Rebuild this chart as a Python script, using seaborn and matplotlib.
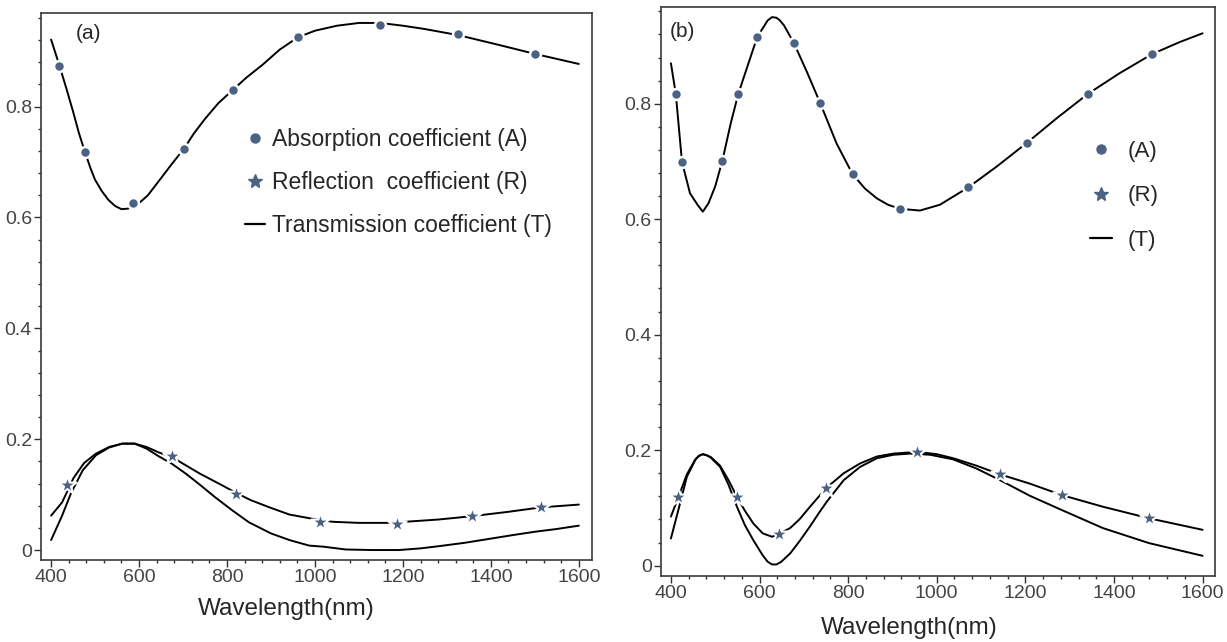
import numpy as np
import matplotlib
matplotlib.use("Agg")
import matplotlib.pyplot as plt
import seaborn as sns
from matplotlib.lines import Line2D
from matplotlib.ticker import MultipleLocator

sns.set_style("ticks")
plt.rcParams['font.family'] = ['Liberation Sans', 'DejaVu Sans']

# ---- panel (a) data ----
a_A_wl = [400, 419, 435, 450, 463, 477, 490, 500, 515, 530, 545, 560, 575, 587, 603,
          620, 650, 675, 702, 725, 750, 780, 813, 845, 880, 920, 961, 1000, 1050,
          1100, 1148, 1200, 1250, 1326, 1420, 1501, 1600]
a_A = [0.921, 0.874, 0.832, 0.791, 0.753, 0.718, 0.688, 0.668, 0.648, 0.632, 0.621,
       0.615, 0.616, 0.620, 0.628, 0.640, 0.671, 0.697, 0.724, 0.752, 0.778, 0.806,
       0.830, 0.853, 0.875, 0.903, 0.925, 0.937, 0.946, 0.951, 0.951, 0.946, 0.940,
       0.929, 0.911, 0.895, 0.877]
a_A_mk_wl = [419, 477, 587, 702, 813, 961, 1148, 1326, 1501]
a_A_mk = [0.874, 0.718, 0.626, 0.724, 0.830, 0.925, 0.948, 0.931, 0.895]

a_R_wl = [400, 425, 451, 475, 502, 532, 562, 590, 617, 645, 674, 706, 738, 786, 821,
          854, 900, 942, 997, 1040, 1100, 1161, 1205, 1280, 1356, 1440, 1514, 1600]
a_R = [0.062, 0.086, 0.130, 0.157, 0.174, 0.186, 0.192, 0.192, 0.186, 0.176, 0.168,
       0.153, 0.138, 0.118, 0.103, 0.090, 0.076, 0.064, 0.056, 0.051, 0.049, 0.049,
       0.051, 0.055, 0.061, 0.069, 0.077, 0.082]
a_R_mk_wl = [436, 674, 821, 1011, 1186, 1356, 1514]
a_R_mk = [0.117, 0.170, 0.102, 0.050, 0.047, 0.061, 0.078]

a_T_wl = [400, 425, 445, 472, 502, 532, 562, 590, 617, 645, 674, 706, 738, 775, 813,
          850, 900, 942, 987, 1020, 1070, 1130, 1191, 1240, 1282, 1340, 1395, 1450,
          1500, 1550, 1600]
a_T = [0.018, 0.062, 0.102, 0.144, 0.171, 0.185, 0.192, 0.192, 0.183, 0.169, 0.156,
       0.138, 0.118, 0.094, 0.071, 0.050, 0.030, 0.018, 0.008, 0.006, 0.001, 0.000,
       0.000, 0.003, 0.007, 0.013, 0.020, 0.027, 0.033, 0.038, 0.044]

# ---- panel (b) data ----
b_A_wl = [400, 411, 425, 443, 460, 472, 485, 500, 516, 535, 552, 575, 595, 610, 618,
          628, 638, 645, 655, 677, 707, 737, 774, 810, 838, 865, 890, 917, 962, 1007,
          1071, 1135, 1203, 1271, 1341, 1413, 1486, 1549, 1600]
b_A = [0.870, 0.817, 0.699, 0.645, 0.625, 0.613, 0.628, 0.657, 0.701, 0.766, 0.817,
       0.870, 0.916, 0.934, 0.944, 0.950, 0.949, 0.945, 0.936, 0.906, 0.855, 0.801,
       0.731, 0.678, 0.653, 0.636, 0.625, 0.618, 0.615, 0.625, 0.655, 0.691, 0.732,
       0.775, 0.817, 0.853, 0.886, 0.907, 0.922]
b_A_mk_wl = [411, 425, 516, 552, 595, 677, 737, 810, 917, 1071, 1203, 1341, 1486]
b_A_mk = [0.817, 0.699, 0.701, 0.817, 0.916, 0.906, 0.801, 0.678, 0.618, 0.655,
          0.732, 0.817, 0.886]

b_R_wl = [400, 417, 436, 455, 463, 472, 481, 490, 511, 530, 549, 567, 586, 607, 628,
          644, 669, 690, 714, 750, 790, 827, 865, 902, 956, 1000, 1037, 1090, 1143,
          1210, 1283, 1375, 1479, 1600]
b_R = [0.085, 0.119, 0.158, 0.184, 0.190, 0.193, 0.191, 0.188, 0.173, 0.148, 0.119,
       0.095, 0.073, 0.056, 0.050, 0.055, 0.065, 0.080, 0.102, 0.134, 0.160, 0.177,
       0.189, 0.194, 0.197, 0.193, 0.186, 0.173, 0.158, 0.142, 0.122, 0.102, 0.082,
       0.062]
b_R_mk_wl = [417, 549, 644, 750, 956, 1143, 1283, 1479]
b_R_mk = [0.119, 0.119, 0.055, 0.134, 0.197, 0.158, 0.122, 0.082]

b_T_wl = [400, 418, 436, 455, 463, 472, 481, 490, 511, 530, 549, 567, 586, 607, 618,
          628, 638, 648, 669, 690, 714, 733, 752, 790, 827, 865, 902, 940, 985, 1037,
          1090, 1143, 1210, 1283, 1375, 1479, 1600]
b_T = [0.047, 0.100, 0.154, 0.183, 0.190, 0.193, 0.191, 0.187, 0.171, 0.140, 0.102,
       0.070, 0.044, 0.018, 0.007, 0.002, 0.002, 0.006, 0.021, 0.042, 0.068, 0.090,
       0.111, 0.148, 0.171, 0.186, 0.192, 0.194, 0.192, 0.184, 0.168, 0.148, 0.121,
       0.096, 0.065, 0.039, 0.017]

x_ticks = [400, 600, 800, 1000, 1200, 1400, 1600]
x_ticklabels = ['400', '600', '800', '1000', '1200', '1400', '1600']
y_ticks = [0, 0.2, 0.4, 0.6, 0.8]
y_ticklabels = ['0', '0.2', '0.4', '0.6', '0.8']

labels_a = ['Absorption coefficient (A)', 'Reflection  coefficient (R)',
            'Transmission coefficient (T)']
labels_b = ['(A)', '(R)', '(T)']

mcol = '#4b6282'
fig = plt.figure(figsize=(12.27, 6.42), dpi=100)
ax_a = fig.add_axes([0.0334, 0.1277, 0.4491, 0.8521])
ax_b = fig.add_axes([0.5385, 0.1028, 0.4517, 0.8858])


def draw(ax, A_wl, A, Amw, Am, R_wl, R, Rmw, Rm, T_wl, T):
    sns.lineplot(x=A_wl, y=A, ax=ax, color='black', lw=1.4)
    sns.lineplot(x=R_wl, y=R, ax=ax, color='black', lw=1.4)
    sns.lineplot(x=T_wl, y=T, ax=ax, color='black', lw=1.4)
    sns.scatterplot(x=Amw, y=Am, ax=ax, marker='o', s=62, color=mcol,
                    edgecolor='white', linewidth=1.8, zorder=4)
    sns.scatterplot(x=Rmw, y=Rm, ax=ax, marker='*', s=190, color=mcol,
                    edgecolor='white', linewidth=1.5, zorder=4)
    ax.set_xticks(x_ticks)
    ax.set_xticklabels(x_ticklabels)
    ax.set_yticks(y_ticks)
    ax.set_yticklabels(y_ticklabels)
    ax.xaxis.set_minor_locator(MultipleLocator(40))
    ax.yaxis.set_minor_locator(MultipleLocator(0.04))
    ax.tick_params(which='major', length=5, width=1, color='#333333',
                   labelsize=14, labelcolor='#444444', pad=1.5)
    ax.tick_params(which='minor', length=2.5, width=1, color='#333333')
    for s in ax.spines.values():
        s.set_color('#3a3a3a')
        s.set_linewidth(1.2)
    ax.set_ylabel('')


draw(ax_a, a_A_wl, a_A, a_A_mk_wl, a_A_mk, a_R_wl, a_R, a_R_mk_wl, a_R_mk, a_T_wl, a_T)
ax_a.set_xlim(377, 1630)
ax_a.set_ylim(-0.018, 0.969)

draw(ax_b, b_A_wl, b_A, b_A_mk_wl, b_A_mk, b_R_wl, b_R, b_R_mk_wl, b_R_mk, b_T_wl, b_T)
ax_b.set_xlim(377, 1628)
ax_b.set_ylim(-0.018, 0.967)

for ax, lab, lx, ly in [(ax_a, '(a)', 0.087, 0.962), (ax_b, '(b)', 0.040, 0.957)]:
    ax.text(lx, ly, lab, transform=ax.transAxes, fontsize=15, ha='center', va='center')

ax_a.set_xlabel('Wavelength(nm)', fontsize=17.5)
ax_a.xaxis.set_label_coords(0.4456, -0.069)
ax_b.set_xlabel('Wavelength(nm)', fontsize=17.5)
ax_b.xaxis.set_label_coords(0.448, -0.072)

handles = [Line2D([], [], marker='o', ls='', color=mcol, markersize=6.5),
           Line2D([], [], marker='*', ls='', color=mcol, markersize=10),
           Line2D([], [], color='black', lw=1.6)]

ax_a.legend(handles, labels_a, loc='upper left', bbox_to_anchor=(0.370, 0.789),
            frameon=False, fontsize=16.5, borderpad=0, borderaxespad=0,
            handlelength=0.9, handletextpad=0.3, labelspacing=0.87)
ax_b.legend(handles, labels_b, loc='upper left', bbox_to_anchor=(0.7745, 0.765),
            frameon=False, fontsize=16, borderpad=0, borderaxespad=0,
            handlelength=1.0, handletextpad=0.7, labelspacing=1.05)

plt.savefig('out.png', dpi=100)
